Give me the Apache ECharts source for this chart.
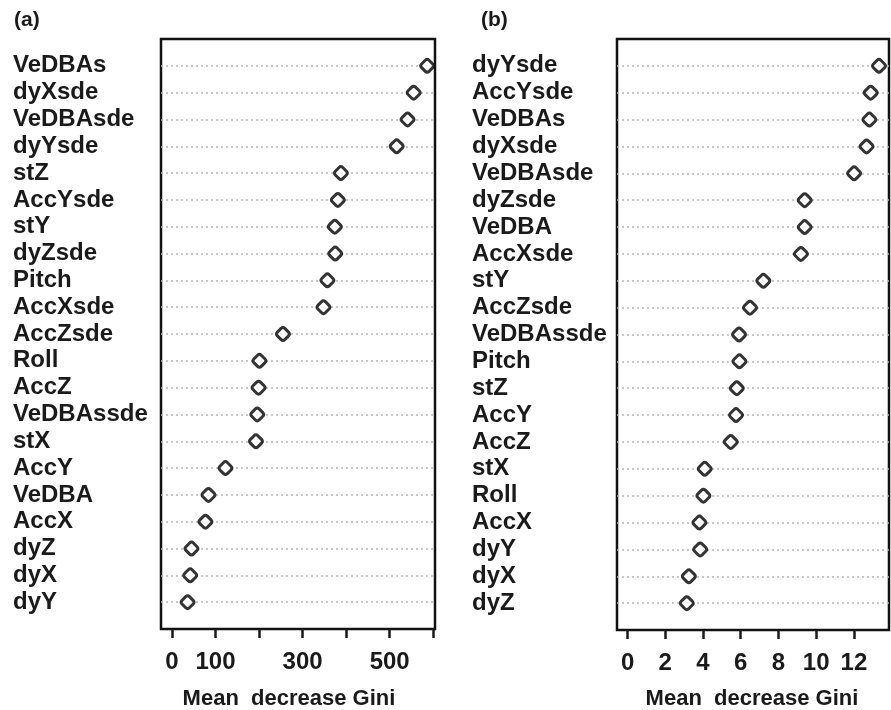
<!DOCTYPE html>
<html>
<head>
<meta charset="utf-8">
<script src="https://cdn.jsdelivr.net/npm/echarts@6/dist/echarts.min.js"></script>
<style>
  html, body { margin: 0; padding: 0; background: #fff; }
  #chart { width: 891px; height: 710px; }
</style>
</head>
<body>
<div id="chart"></div>
<script>
// panel (a)
const namesA = ['VeDBAs', 'dyXsde', 'VeDBAsde', 'dyYsde', 'stZ', 'AccYsde', 'stY', 'dyZsde', 'Pitch', 'AccXsde',
  'AccZsde', 'Roll', 'AccZ', 'VeDBAssde', 'stX', 'AccY', 'VeDBA', 'AccX', 'dyZ', 'dyX', 'dyY'];
const giniA = [586, 555, 541, 516, 388, 381, 374, 375, 357, 348, 255, 201, 199, 196, 193, 123, 84, 77, 45, 42, 36];
const ticksA = [0, 100, 200, 300, 400, 500, 600];
const labelsA = [0, 100, 300, 500];

// panel (b)
const namesB = ['dyYsde', 'AccYsde', 'VeDBAs', 'dyXsde', 'VeDBAsde', 'dyZsde', 'VeDBA', 'AccXsde', 'stY', 'AccZsde',
  'VeDBAssde', 'Pitch', 'stZ', 'AccY', 'AccZ', 'stX', 'Roll', 'AccX', 'dyY', 'dyX', 'dyZ'];
const giniB = [13.33, 12.89, 12.82, 12.67, 12.01, 9.39, 9.39, 9.19, 7.2, 6.49, 5.91, 5.93, 5.79, 5.75, 5.47, 4.09, 4.02, 3.81, 3.85, 3.25, 3.14];
const ticksB = [0, 2, 4, 6, 8, 10, 12];
const labelsB = [0, 2, 4, 6, 8, 10, 12];

const font = 'Liberation Sans, Arial, Helvetica, sans-serif';
const ink = '#1a1a1a';
const rows = namesA.map((n, i) => i);
// open dot, a rounded diamond like the scanned R symbol
const dot = 'path://M7.5,2.5 L2.5,7.5 Q0,10 2.5,12.5 L7.5,17.5 Q10,20 12.5,17.5 L17.5,12.5 Q20,10 17.5,7.5 L12.5,2.5 Q10,0 7.5,2.5 Z';

function xAxisFor(gridIndex, min, max, ticks, labels) {
  return {
    type: 'value', gridIndex: gridIndex, min: min, max: max, position: 'bottom',
    axisLine: { show: false, onZero: false },
    axisTick: { show: true, length: 9, customValues: ticks, lineStyle: { color: ink, width: 2.5 } },
    axisLabel: { customValues: labels, margin: 21, color: ink, fontSize: 24, fontWeight: 'bold', fontFamily: font },
    splitLine: { show: false }
  };
}

function yAxisFor(gridIndex, names, margin) {
  return {
    type: 'value', gridIndex: gridIndex, min: -1, max: 21, inverse: true,
    axisLine: { show: false, onZero: false },
    axisTick: { show: false, customValues: rows },
    axisLabel: {
      customValues: rows, align: 'left', margin: margin,
      color: ink, fontSize: 24, fontWeight: 'bold', fontFamily: font,
      formatter: v => names[v] || ''
    },
    splitLine: { show: true, lineStyle: { color: '#b8b8b8', type: [2, 3], width: 1.5 } }
  };
}

function dots(index, values) {
  return {
    type: 'scatter', xAxisIndex: index, yAxisIndex: index,
    data: values.map((v, i) => [v, i]),
    symbol: dot, symbolSize: 13,
    itemStyle: { color: '#fff', borderColor: '#000', borderWidth: 3 }
  };
}

const chart = echarts.init(document.getElementById('chart'));
chart.setOption({
  animation: false,
  grid: [
    { left: 161, top: 39, width: 274, height: 590, show: true, borderColor: '#111', borderWidth: 2.5, backgroundColor: 'transparent' },
    { left: 617, top: 39, width: 272, height: 591, show: true, borderColor: '#111', borderWidth: 2.5, backgroundColor: 'transparent' }
  ],
  xAxis: [
    xAxisFor(0, -25, 604, ticksA, labelsA),
    xAxisFor(1, -0.56, 13.86, ticksB, labelsB)
  ],
  yAxis: [
    yAxisFor(0, namesA, 148),
    yAxisFor(1, namesB, 145)
  ],
  series: [dots(0, giniA), dots(1, giniB)],
  graphic: [
    { type: 'text', left: 14, top: 10, style: { text: '(a)', font: 'bold 21px ' + font, fill: ink } },
    { type: 'text', left: 481, top: 10, style: { text: '(b)', font: 'bold 21px ' + font, fill: ink } },
    { type: 'text', x: 289, y: 699, style: { text: 'Mean  decrease Gini', font: 'bold 22px ' + font, fill: ink, align: 'center', verticalAlign: 'middle' } },
    { type: 'text', x: 752, y: 699, style: { text: 'Mean  decrease Gini', font: 'bold 22px ' + font, fill: ink, align: 'center', verticalAlign: 'middle' } }
  ]
});
</script>
</body>
</html>
